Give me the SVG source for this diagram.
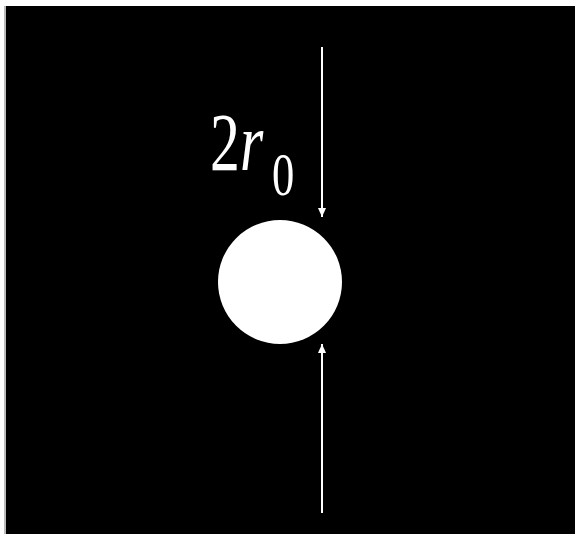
<svg xmlns="http://www.w3.org/2000/svg" width="575" height="534" viewBox="0 0 575 534">
<style>
.arrow{stroke:#fff;stroke-width:2;fill:none}
</style>
<defs>
<marker id="ah" markerWidth="10" markerHeight="10" refX="9" refY="5" orient="auto" markerUnits="userSpaceOnUse">
<path d="M0,1 L9,5 L0,9 Z" fill="#fff"/>
</marker>
</defs>
<rect x="0" y="0" width="575" height="534" fill="#fff"/>
<rect x="4" y="6" width="2" height="528" fill="#bbb"/>
<rect x="6" y="6" width="569" height="528" fill="#000"/>
<g id="particle">
<circle cx="280" cy="282" r="62" fill="#fff"/>
</g>
<g id="connectors">
<line class="arrow" x1="322" y1="47" x2="322" y2="217" marker-end="url(#ah)"/>
<line class="arrow" x1="322" y1="513" x2="322" y2="344" marker-end="url(#ah)"/>
</g>
<g id="label" transform="translate(210,170) scale(0.72,1)">
<text font-family="'Liberation Serif', 'DejaVu Serif', serif" fill="#fff" x="0" y="0" font-size="83">2<tspan font-style="italic">r</tspan><tspan x="86" y="25" font-size="62">0</tspan></text>
</g>
</svg>
